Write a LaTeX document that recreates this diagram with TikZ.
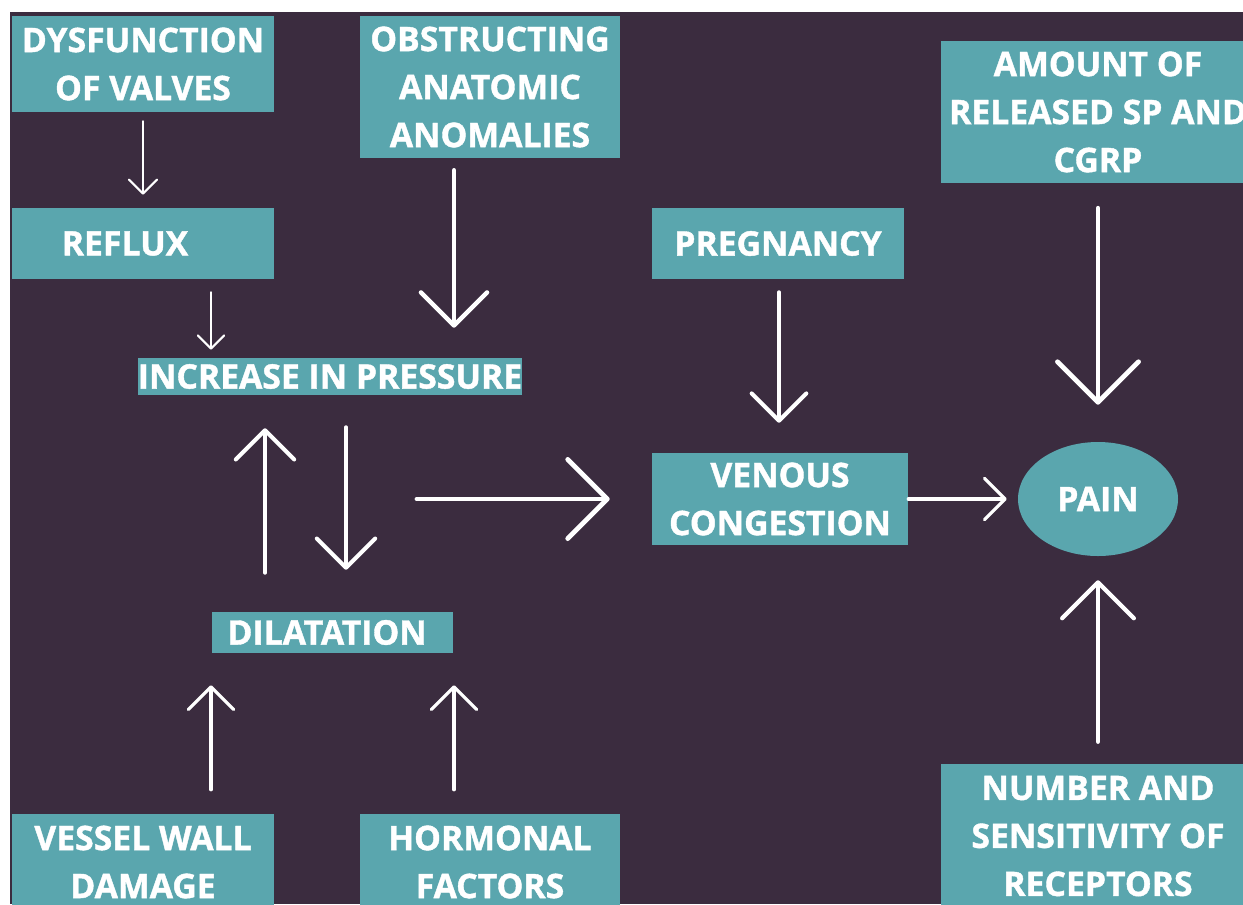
\documentclass[tikz,border=0pt]{standalone}
\usepackage{fontspec}
\setmainfont{Open Sans}[BoldFeatures={FakeBold=1.2}]
\usetikzlibrary{arrows.meta,calc,shapes.geometric}
\definecolor{bgc}{HTML}{3B2C3F}
\definecolor{boxc}{HTML}{5AA6AE}
\begin{document}
\begin{tikzpicture}[x=0.75pt,y=-0.75pt,
  lbl/.style={text=white, font=\fontsize{25.3}{36}\selectfont\bfseries},
  box/.style 2 args={lbl, fill=boxc, inner sep=0pt, minimum width=#1*0.75pt, minimum height=#2*0.75pt},
  mbox/.style 2 args={box={#1}{#2}, align=center},
  arr/.style 2 args={draw=white, line width=#1, line cap=round, -{Straight Barb[angle=90:#2, round]}}]
\useasboundingbox (0,0) rectangle (1243,904);
\fill[white] (0,0) rectangle (1243,904);
\clip (0,0) rectangle (1243,904);
\fill[bgc] (10,12) rectangle (1243,904);
% boxes
\node[mbox={262}{96}] (dys) at (143,64) {DYSFUNCTION\\OF VALVES};
\node[mbox={260}{142}] (obs) at (490,87) {OBSTRUCTING\\ANATOMIC\\ANOMALIES};
\node[mbox={314}{142}] (amt) at (1098,112) {AMOUNT OF\\RELEASED SP AND\\CGRP};
\node[box={262}{71}] (reflux) at (143,243.5) {REFLUX\kern27pt};
\node[box={252}{71}] (preg) at (778,243.5) {PREGNANCY};
\node[box={384}{37}] (incr) at (330,376.5) {INCREASE IN PRESSURE};
\node[mbox={256}{92}] (ven) at (780,499) {VENOUS\\CONGESTION};
\node[lbl, ellipse, fill=boxc, inner sep=0pt, minimum width=160*0.75pt, minimum height=114*0.75pt] (pain) at (1098,499) {PAIN};
\node[box={241}{41}] (dil) at (332.5,632.5) {DILATATION\kern8pt};
\node[mbox={262}{96}] (ves) at (143,862) {VESSEL WALL\\DAMAGE};
\node[mbox={260}{96}] (hor) at (490,862) {HORMONAL\\FACTORS};
\node[mbox={314}{144}] (num) at (1098,836) {NUMBER AND\\SENSITIVITY OF\\RECEPTORS};
\coordinate (cyc) at (417,499);
% arrows
\draw[arr={1.6pt}{15pt}] ($(dys.south)+(0,9)$) -- ($(reflux.north)+(0,-13)$);
\draw[arr={1.6pt}{14pt}] ($(reflux.south)+(68,13)$) -- ($(incr.north)+(-119,-8)$);
\draw[arr={3.4pt}{35pt}] ($(obs.south)+(-36,12)$) -- ($(incr.north)+(124,-30)$);
\draw[arr={3pt}{29pt}] ($(preg.south)+(1,13)$) -- ($(ven.north)+(-1,-30)$);
\draw[arr={3.6pt}{43pt}] ($(amt.south)+(0,25)$) -- ($(pain.north)+(0,-37)$);
\draw[arr={3pt}{31pt}] ($(dil.north)+(-67.5,-39)$) -- ($(incr.south)+(-65,33)$);
\draw[arr={3pt}{31pt}] ($(incr.south)+(16,32)$) -- ($(dil.north)+(13.5,-42)$);
\draw[arr={3.6pt}{42pt}] (cyc) -- ($(ven.west)+(-42,0)$);
\draw[arr={2.4pt}{22pt}] (ven.east) -- ($(pain.west)+(-11,0)$);
\draw[arr={2.4pt}{24pt}] ($(ves.north)+(68,-24)$) -- ($(dil.south)+(-121.5,32)$);
\draw[arr={2.4pt}{24pt}] ($(hor.north)+(-36,-24)$) -- ($(dil.south)+(121.5,32)$);
\draw[arr={3.2pt}{38pt}] ($(num.north)+(0,-22)$) -- ($(pain.south)+(0,24)$);
\end{tikzpicture}
\end{document}
